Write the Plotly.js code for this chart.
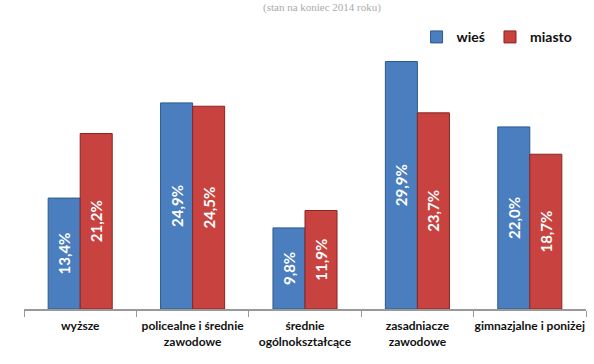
<!DOCTYPE html>
<html><head><meta charset="utf-8">
<script src="https://cdn.plot.ly/plotly-3.0.1.min.js"></script>
<style>html,body{margin:0;padding:0;background:#fff;}</style>
</head><body>
<div id="chart" style="width:594px;height:364px;"></div>
<script>
const categories = ["wyższe", "policealne i średnie<br>zawodowe", "średnie<br>ogólnokształcące", "zasadniacze<br>zawodowe", "gimnazjalne i poniżej"];
const wies = [13.4, 24.9, 9.8, 29.9, 22.0];
const miasto = [21.2, 24.5, 11.9, 23.7, 18.7];
const seriesNames = ["wieś", "miasto"];
const fmt = v => v.toFixed(1).replace(".", ",") + "%";

const common = {
  type: "bar",
  x: categories,
  textposition: "inside",
  insidetextanchor: "middle",
  textangle: -90,
  textfont: {family: "Lato, 'Open Sans', sans-serif", size: 15, color: "#ffffff", weight: "bold"},
  hoverinfo: "none",
  cliponaxis: false
};
const data = [
  Object.assign({}, common, {name: seriesNames[0], y: wies, text: wies.map(fmt),
    marker: {color: "#4a7ebf", line: {color: "#2c5a8e", width: 1}}}),
  Object.assign({}, common, {name: seriesNames[1], y: miasto, text: miasto.map(fmt),
    marker: {color: "#c8423f", line: {color: "#8a2522", width: 1}}})
];
const layout = {
  width: 594, height: 364,
  margin: {l: 24, r: 8, t: 40, b: 55},
  paper_bgcolor: "#fff", plot_bgcolor: "#fff",
  barmode: "group", bargap: 0.43, bargroupgap: 0,
  showlegend: true,
  legend: {orientation: "h", x: 0.985, xanchor: "right", y: 1.01, yanchor: "middle",
    font: {family: "Lato, 'Open Sans', sans-serif", size: 14, color: "#111", weight: "bold"},
    itemwidth: 30, traceorder: "normal"},
  xaxis: {type: "category", tickson: "boundaries", ticks: "outside", ticklen: 6, tickcolor: "#999",
    tickangle: 0, automargin: false, ticklabelstandoff: 5,
    showline: true, linecolor: "#999", linewidth: 2,
    tickfont: {family: "Lato, 'Open Sans', sans-serif", size: 12, color: "#111", weight: "bold"},
    fixedrange: true},
  yaxis: {range: [0, 32.5], visible: false, showgrid: false, zeroline: false, fixedrange: true},
  annotations: [{text: "(stan na koniec 2014 roku)", xref: "paper", yref: "paper", x: 0.53, y: 1, yshift: 33,
    xanchor: "center", yanchor: "middle", showarrow: false,
    font: {family: "'Liberation Serif', serif", size: 11, color: "#aaa"}}]
};
Plotly.newPlot("chart", data, layout, {displayModeBar: false, staticPlot: true});
</script>
</body></html>
